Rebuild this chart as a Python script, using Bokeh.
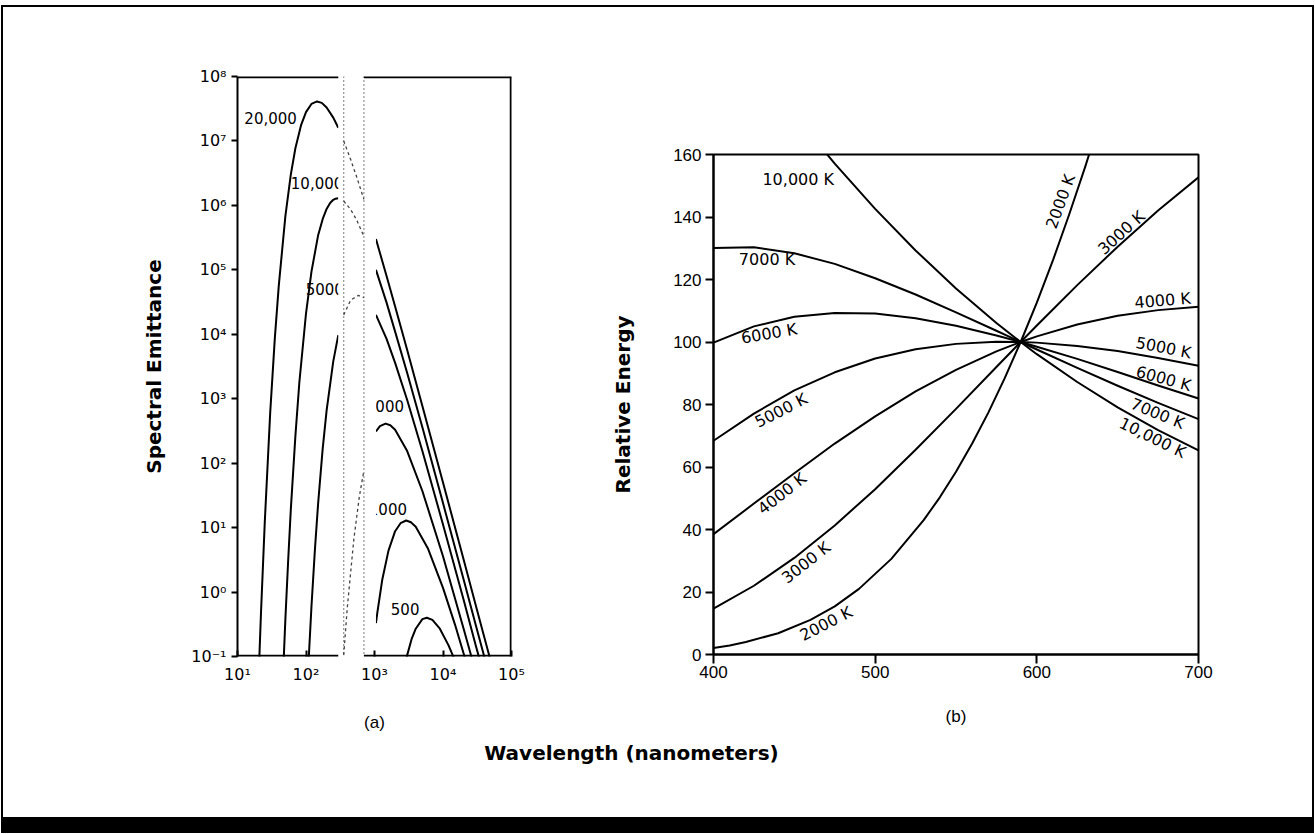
from bokeh.plotting import figure
from bokeh.layouts import row, column
from bokeh.models import FixedTicker, CustomJSTickFormatter, Span, Label, ColumnDataSource
from bokeh.core.properties import value
from bokeh.embed import file_html
from bokeh.resources import INLINE
import math

# ---------------- panel (a): spectral emittance (log-log) ----------------
A_WL_20000 = [20, 21, 22, 25, 30, 35, 40, 50, 60, 70, 85, 100, 120, 145, 170, 200, 250, 296,
              355, 450, 550, 700, 1050, 1500, 2000, 3000, 5000, 10000, 20000, 30000, 40000, 50000]
A_EM_20000 = [0.028, 0.12, 0.46, 12, 600, 8.4e3, 5.6e4, 6.8e5, 3.0e6, 7.7e6, 1.78e7, 2.8e7, 3.75e7, 4.1e7, 3.9e7,
              3.3e7, 2.3e7, 1.6e7,
              1.0e7, 5.1e6, 2.75e6, 1.24e6, 3.0e5, 8.0e4, 2.7e4, 5.7e3, 770, 50, 3.2, 0.63, 0.20, 0.083]

A_WL_10000 = [45, 50, 55, 60, 70, 80, 100, 120, 150, 175, 200, 225, 250, 270, 296,
              355, 450, 550, 700, 1050, 1500, 2000, 3000, 5000, 10000, 20000, 30000, 40000, 45000]
A_EM_10000 = [0.026, 0.38, 3.2, 19, 264, 1.8e3, 2.1e4, 9.3e4, 3.4e5, 6.1e5, 8.8e5, 1.09e6, 1.22e6, 1.27e6, 1.29e6,
              1.17e6, 8.6e5, 5.9e5, 3.3e5, 1.0e5, 3.1e4, 1.1e4, 2.5e3, 360, 24, 1.57, 0.31, 0.10, 0.066]

A_WL_5000 = [100, 110, 120, 135, 150, 175, 200, 250, 296,
             355, 450, 580, 700, 1050, 1500, 2000, 3000, 5000, 10000, 20000, 30000, 35000]
A_EM_5000 = [0.012, 0.10, 0.58, 4.6, 23, 165, 660, 3.8e3, 9.7e3,
             2.0e4, 3.4e4, 4.0e4, 3.7e4, 2.0e4, 8.5e3, 3.6e3, 955, 154, 11.2, 0.76, 0.15, 0.083]

A_WL_2000 = [355, 400, 500, 600, 700, 1050, 1200, 1450, 1700, 2000, 3000, 5000, 10000, 20000, 25000, 27000]
A_EM_2000 = [0.105, 0.56, 6.7, 30, 77, 310, 376, 411, 388, 330, 154, 37, 3.6, 0.27, 0.115, 0.085]

A_WL_1000 = [1050, 1100, 1300, 1600, 2000, 2400, 2900, 3400, 4000, 6000, 10000, 15000, 20000, 21000]
A_EM_1000 = [0.33, 0.48, 1.57, 4.4, 8.8, 11.7, 12.9, 12.1, 10.3, 4.8, 1.16, 0.31, 0.111, 0.093]

A_WL_500 = [2700, 3000, 3500, 4000, 5000, 5800, 7000, 9000, 12000, 14000, 15000]
A_EM_500 = [0.061, 0.105, 0.19, 0.27, 0.38, 0.40, 0.37, 0.27, 0.15, 0.102, 0.085]

A_LABELS = ["20,000", "10,000", "5000", "2000", "1000", "500"]
A_X_TICKS = [1e1, 1e2, 1e3, 1e4, 1e5]
A_Y_TICKS = [1e-1, 1e0, 1e1, 1e2, 1e3, 1e4, 1e5, 1e6, 1e7, 1e8]

# band limits (nm): ultraviolet solid part ends, visible (dotted) band, infrared solid part starts
UV_END, VIS_START, VIS_END, IR_START = 296, 355, 700, 1050

# label positions (data units) and alignment
A_LAB_X = [73.5, 60, 99, 747, 826, 1730]
A_LAB_Y = [2.3e7, 2.2e6, 5.0e4, 780, 19.6, 0.55]
A_LAB_ALIGN = ["right", "left", "left", "left", "left", "left"]

# ---------------- panel (b): relative energy, normalised at 590 nm ----------------
B_WL = [400, 425, 450, 475, 500, 525, 550, 575, 590, 600, 625, 650, 675, 700]
B_3000 = [14.7, 22.0, 30.9, 41.3, 52.9, 65.5, 78.6, 92.0, 100, 105.3, 118.2, 130.5, 142.1, 152.7]
B_4000 = [38.5, 48.3, 58.0, 67.5, 76.2, 84.2, 91.1, 97.0, 100, 101.8, 105.6, 108.4, 110.2, 111.3]
B_5000 = [68.4, 77.1, 84.5, 90.3, 94.7, 97.7, 99.4, 100.1, 100, 99.8, 98.7, 97.1, 94.9, 92.4]
B_6000 = [99.8, 105.0, 108.1, 109.3, 109.1, 107.6, 105.2, 102.1, 100, 98.5, 94.6, 90.4, 86.1, 81.9]
B_7000 = [130.1, 130.3, 128.4, 125.0, 120.4, 115.2, 109.5, 103.6, 100, 97.6, 91.7, 86.0, 80.5, 75.3]
B_10000 = [205.7, 189.0, 172.6, 157.1, 142.6, 129.3, 117.1, 106.1, 100, 96.1, 87.2, 79.1, 71.8, 65.3]

# the strongly curved 2000 K curve is read at more wavelengths
B_WL_2000 = [400, 410, 420, 440, 460, 475, 490, 510, 530, 540, 550, 560, 570, 580, 590,
             600, 610, 620, 630, 640, 650]
B_2000 = [2.1, 2.9, 4.0, 6.8, 11.1, 15.4, 21.0, 30.6, 43.0, 50.3, 58.5, 67.5, 77.4, 88.3, 100,
          112.6, 126.2, 140.8, 156.2, 172.6, 189.9]

B_X_TICKS = [400, 500, 600, 700]
B_Y_TICKS = [0, 20, 40, 60, 80, 100, 120, 140, 160]

B_LAB_TEXT = ["10,000 K", "7000 K", "6000 K", "5000 K", "4000 K", "3000 K", "2000 K",
              "2000 K", "3000 K", "4000 K", "5000 K", "6000 K", "7000 K", "10,000 K"]
B_LAB_X = [452.4, 433.1, 434.4, 441.8, 442.4, 457.2, 469.6,
           614.6, 652.3, 677.8, 678.4, 678.4, 674.7, 671.6]
B_LAB_Y = [152.0, 126.4, 102.7, 78.1, 51.5, 29.4, 9.9,
           145.0, 135.0, 113.3, 98.2, 88.3, 77.1, 69.4]
B_LAB_DEG = [0, 0, 10, 27, 38, 38, 27,
             70, 42, 5, -11, -15, -22, -26]

LABEL_FONT = "DejaVu Sans"
TICK_FONT = "Liberation Sans"

# ======================= figure (a) =======================
fa = figure(width=587, height=733, x_axis_type="log", y_axis_type="log",
            x_range=(1e1, 1e5), y_range=(1e-1, 1e8),
            min_border_left=234, min_border_right=79, min_border_top=69, min_border_bottom=84,
            toolbar_location=None, output_backend="svg")
fa.frame_align = False
fa.grid.visible = False
fa.outline_line_color = None
fa.background_fill_color = "white"
fa.border_fill_color = "white"

curves_a = [(A_WL_20000, A_EM_20000), (A_WL_10000, A_EM_10000), (A_WL_5000, A_EM_5000),
            (A_WL_2000, A_EM_2000), (A_WL_1000, A_EM_1000), (A_WL_500, A_EM_500)]

vis_parts = []
for wl, em in curves_a:
    uv = [(w, e) for w, e in zip(wl, em) if w <= UV_END]
    vis = [(w, e) for w, e in zip(wl, em) if VIS_START <= w <= VIS_END]
    ir = [(w, e) for w, e in zip(wl, em) if w >= IR_START]
    for part in (uv, ir):
        if len(part) > 1:
            fa.line([p[0] for p in part], [p[1] for p in part], line_color="black",
                    line_width=2, line_join="round")
    if len(vis) > 1:
        vis_parts.append(vis)

lab_src = ColumnDataSource(dict(x=A_LAB_X, y=A_LAB_Y, text=A_LABELS, align=A_LAB_ALIGN))
fa.text(x="x", y="y", text="text", text_align="align", source=lab_src,
        text_baseline="middle", text_font=value(LABEL_FONT), text_font_size=value("15px"),
        text_color="black")

# white band over the region between ultraviolet and infrared solid parts
fa.quad(left=[UV_END], right=[IR_START], bottom=[1e-1], top=[1e8],
        fill_color="white", line_color=None)

for vis in vis_parts:
    fa.line([p[0] for p in vis], [p[1] for p in vis], line_color="#444444",
            line_width=1.3, line_dash="3 3")

for loc in (VIS_START, VIS_END):
    fa.add_layout(Span(location=loc, dimension="height", line_color="#333333",
                       line_width=1.3, line_dash="1 3"))

# frame with a gap over the visible band
fa.multi_line(xs=[[1e1, UV_END], [VIS_END, 1e5], [1e1, UV_END], [VIS_END, 1e5], [1e5, 1e5]],
              ys=[[1e8, 1e8], [1e8, 1e8], [1e-1, 1e-1], [1e-1, 1e-1], [1e-1, 1e8]],
              line_color="black", line_width=3.5)

sup_js = """
const sup = {"-": "\\u207b", "0": "\\u2070", "1": "\\u00b9", "2": "\\u00b2", "3": "\\u00b3",
             "4": "\\u2074", "5": "\\u2075", "6": "\\u2076", "7": "\\u2077", "8": "\\u2078", "9": "\\u2079"};
const e = Math.round(Math.log10(tick));
return "10" + String(e).split("").map(c => sup[c]).join("");
"""

fa.xaxis.ticker = FixedTicker(ticks=A_X_TICKS, minor_ticks=[])
fa.yaxis.ticker = FixedTicker(ticks=A_Y_TICKS, minor_ticks=[])
fa.xaxis.formatter = CustomJSTickFormatter(code=sup_js)
fa.yaxis.formatter = CustomJSTickFormatter(code=sup_js)

fa.xaxis.axis_line_color = None
fa.xaxis.major_tick_in = 6
fa.xaxis.major_tick_out = 0
fa.xaxis.major_tick_line_width = 2
fa.xaxis.major_label_standoff = 8
fa.xaxis.axis_label = "(a)"
fa.xaxis.axis_label_standoff = 26
fa.xaxis.axis_label_text_font = TICK_FONT
fa.xaxis.axis_label_text_font_style = "normal"
fa.xaxis.axis_label_text_font_size = "17px"

fa.yaxis.axis_line_width = 2
fa.yaxis.major_tick_in = 0
fa.yaxis.major_tick_out = 6
fa.yaxis.major_tick_line_width = 2
fa.yaxis.major_label_standoff = 5
fa.yaxis.axis_label = "Spectral Emittance"
fa.yaxis.axis_label_standoff = 22
fa.yaxis.axis_label_text_font = LABEL_FONT
fa.yaxis.axis_label_text_font_style = "bold"
fa.yaxis.axis_label_text_font_size = "20px"

for ax in (fa.xaxis, fa.yaxis):
    ax.major_label_text_font = LABEL_FONT
    ax.major_label_text_font_size = "16px"
    ax.major_label_text_color = "black"
    ax.axis_label_text_color = "black"
    ax.major_tick_line_color = "black"
    ax.minor_tick_line_color = None

# ======================= figure (b) =======================
fb = figure(width=722, height=733, x_range=(400, 700), y_range=(0, 160),
            min_border_left=123, min_border_right=114, min_border_top=147, min_border_bottom=86,
            toolbar_location=None, output_backend="svg")
fb.frame_align = False
fb.grid.visible = False
fb.outline_line_color = "black"
fb.outline_line_width = 2
fb.background_fill_color = "white"
fb.border_fill_color = "white"

fb.line(B_WL_2000, B_2000, line_color="black", line_width=2, line_join="round")
for series in (B_3000, B_4000, B_5000, B_6000, B_7000, B_10000):
    fb.line(B_WL, series, line_color="black", line_width=2, line_join="round")

fb.text(x=B_LAB_X, y=B_LAB_Y, text=B_LAB_TEXT, angle=[math.radians(d) for d in B_LAB_DEG],
        text_align="center", text_baseline="middle", text_font=value(LABEL_FONT),
        text_font_size=value("16px"), text_color="black")

fb.xaxis.ticker = FixedTicker(ticks=B_X_TICKS, minor_ticks=[])
fb.yaxis.ticker = FixedTicker(ticks=B_Y_TICKS, minor_ticks=[])
fb.xaxis.major_tick_out = 9
fb.xaxis.major_tick_in = 0
fb.xaxis.major_label_standoff = 2
fb.xaxis.axis_label = "(b)"
fb.xaxis.axis_label_standoff = 26
fb.xaxis.axis_label_text_font = TICK_FONT
fb.xaxis.axis_label_text_font_style = "normal"
fb.xaxis.axis_label_text_font_size = "17px"

fb.yaxis.major_tick_out = 8
fb.yaxis.major_tick_in = 0
fb.yaxis.major_label_standoff = 4
fb.yaxis.axis_label = "Relative Energy"
fb.yaxis.axis_label_standoff = 35
fb.yaxis.axis_label_text_font = LABEL_FONT
fb.yaxis.axis_label_text_font_style = "bold"
fb.yaxis.axis_label_text_font_size = "20px"

for ax in (fb.xaxis, fb.yaxis):
    ax.axis_line_width = 2
    ax.axis_line_color = "black"
    ax.major_tick_line_width = 2
    ax.major_tick_line_color = "black"
    ax.minor_tick_line_color = None
    ax.major_label_text_font = TICK_FONT
    ax.major_label_text_font_size = "17px"
    ax.major_label_text_color = "black"
    ax.axis_label_text_color = "black"

# ======================= shared caption strip =======================
fs = figure(width=1309, height=77, x_range=(0, 1309), y_range=(0, 77),
            min_border=0, toolbar_location=None, output_backend="svg",
            x_axis_location=None, y_axis_location=None)
fs.grid.visible = False
fs.outline_line_color = None
fs.background_fill_color = "white"
fs.border_fill_color = "white"
fs.add_layout(Label(x=628, y=65, text="Wavelength (nanometers)", text_align="center",
                    text_baseline="middle", text_font=LABEL_FONT, text_font_size="20px",
                    text_font_style="bold", text_color="black"))

root = column(row(fa, fb), fs,
              styles={"border-top": "2px solid black", "border-left": "2px solid black",
                      "border-right": "2px solid black", "border-bottom": "16px solid black",
                      "margin-top": "5px", "margin-left": "1px"})

with open("out.html", "w", encoding="utf-8") as f:
    f.write(file_html(root, INLINE))
